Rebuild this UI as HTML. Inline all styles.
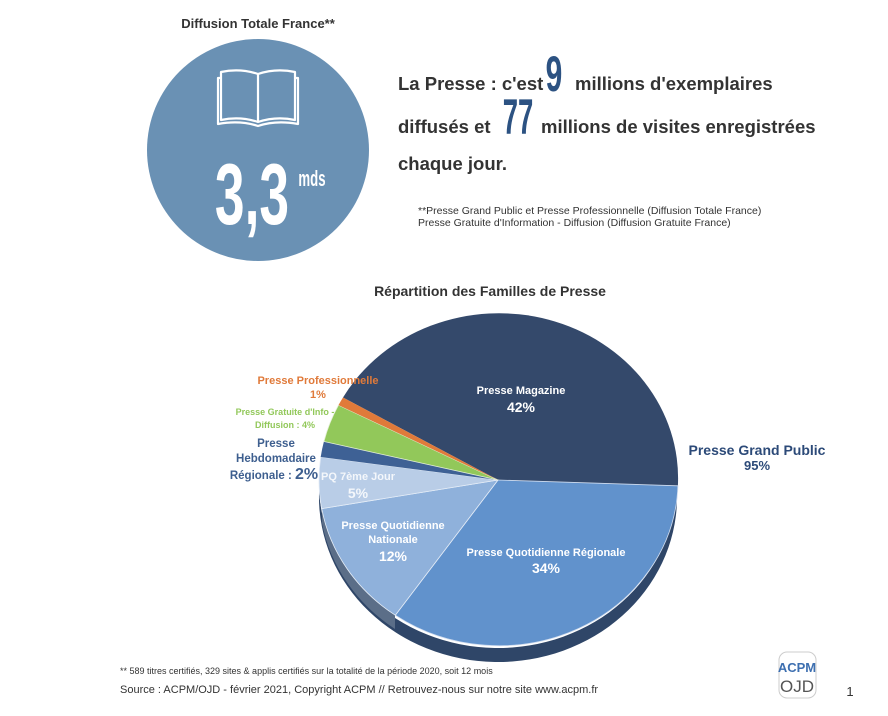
<!DOCTYPE html>
<html><head><meta charset="utf-8"><style>
html,body{margin:0;padding:0;background:#fff;}
body{width:888px;height:716px;position:relative;overflow:hidden;font-family:"Liberation Sans",sans-serif;}
</style></head><body>
<svg width="888" height="716" style="position:absolute;left:0;top:0" font-family="Liberation Sans, sans-serif">
<text x="258" y="28" text-anchor="middle" font-size="13" font-weight="bold" fill="#333">Diffusion Totale France**</text>
<circle cx="258" cy="150" r="111" fill="#6a91b4"/>
<g fill="none" stroke="#fff" stroke-width="2.2" stroke-linejoin="round">
<path d="M221 72 L221 120 Q240 116 258 122 Q276 116 295 120 L295 72 Q276 68 258 74 Q240 68 221 72 Z"/>
<path d="M258 74 L258 122"/>
<path d="M221 78 L218 78 L218 124 Q240 120 258 126 Q276 120 298 124 L298 78 L295 78"/>
</g>
<text x="252" y="224" text-anchor="middle" font-size="86" font-weight="bold" fill="#fff" transform="translate(252 0) scale(0.62 1) translate(-252 0)">3,3</text>
<text x="312" y="186" text-anchor="middle" font-size="22" font-weight="bold" fill="#fff" transform="translate(312 0) scale(0.6 1) translate(-312 0)">mds</text>

<path d="M677 486 A179 165 0 0 1 319 480 L319 494 A179 165 0 0 0 677 500 Z" fill="#2f4668"/>
<path d="M395 615 A179 165 0 0 1 322 509 L322 523 A179 165 0 0 0 395 629 Z" fill="#5b6e88"/>
<path d="M498 480 L343 397.5 A179 165 0 0 1 677.9 485.8 Z" fill="#34496b"/>
<path d="M498 480 L677.9 485.8 A179 165 0 0 1 395.3 615.2 Z" fill="#6192cc" stroke="#cfdcef" stroke-width="0.8"/>
<path d="M498 480 L395.3 615.2 A179 165 0 0 1 321.7 508.6 Z" fill="#8fb1db" stroke="#e5edf7" stroke-width="0.8"/>
<path d="M498 480 L321.7 508.6 A179 165 0 0 1 320.7 457 Z" fill="#b9cde7" stroke="#e5edf7" stroke-width="0.8"/>
<path d="M498 480 L320.7 457 A179 165 0 0 1 323.9 441.5 Z" fill="#3e6195"/>
<path d="M498 480 L323.9 441.5 A179 165 0 0 1 338.5 405.1 Z" fill="#92c85a" stroke="#e5f0d9" stroke-width="0.8"/>
<path d="M498 480 L338.5 405.1 A179 165 0 0 1 343 397.5 Z" fill="#e07a3a"/>

<text x="490" y="296" text-anchor="middle" font-size="14" font-weight="bold" fill="#333">Répartition des Familles de Presse</text>
<g font-weight="bold" fill="#fff" text-anchor="middle">
<text x="521" y="394" font-size="11">Presse Magazine</text>
<text x="521" y="412" font-size="14">42%</text>
<text x="546" y="556" font-size="11">Presse Quotidienne Régionale</text>
<text x="546" y="573" font-size="14">34%</text>
<text x="393" y="529" font-size="11">Presse Quotidienne</text>
<text x="393" y="543" font-size="11">Nationale</text>
<text x="393" y="561" font-size="14">12%</text>
<text x="358" y="480" font-size="11" fill="#f4f7fb">PQ 7ème Jour</text>
<text x="358" y="498" font-size="14" fill="#f4f7fb">5%</text>
</g>
<g font-weight="bold" text-anchor="middle">
<text x="318" y="384" font-size="11" fill="#e07a3a">Presse Professionnelle</text>
<text x="318" y="398" font-size="11" fill="#e07a3a">1%</text>
<text x="285" y="415" font-size="9" fill="#92c85a">Presse Gratuite d'Info -</text>
<text x="285" y="428" font-size="9" fill="#92c85a">Diffusion : 4%</text>
<text x="276" y="447" font-size="11.5" fill="#3e5f8f">Presse</text>
<text x="276" y="462" font-size="11.5" fill="#3e5f8f">Hebdomadaire</text>
<text x="274" y="479" font-size="11.5" fill="#3e5f8f">Régionale : <tspan font-size="16">2%</tspan></text>
<text x="757" y="455" font-size="14" fill="#2c4a78">Presse Grand Public</text>
<text x="757" y="470" font-size="13" fill="#2c4a78">95%</text>
</g>

<g font-size="18.5" font-weight="bold" fill="#333">
<text x="398" y="90">La Presse : c'est</text>
<text x="575" y="90">millions d'exemplaires</text>
<text x="398" y="133">diffusés et</text>
<text x="541" y="133">millions de visites enregistrées</text>
<text x="398" y="170">chaque jour.</text>
</g>
<text x="554" y="91" text-anchor="middle" font-size="50" font-weight="bold" fill="#2c5282" transform="translate(554 0) scale(0.6 1) translate(-554 0)">9</text>
<text x="518" y="134" text-anchor="middle" font-size="50" font-weight="bold" fill="#2c5282" transform="translate(518 0) scale(0.55 1) translate(-518 0)">77</text>
<text x="418" y="214" font-size="10.5" fill="#333">**Presse Grand Public et Presse Professionnelle (Diffusion Totale France)</text>
<text x="418" y="226" font-size="10.5" fill="#333">Presse Gratuite d'Information - Diffusion (Diffusion Gratuite France)</text>

<text x="120" y="674" font-size="9" fill="#333">** 589 titres certifiés, 329 sites &amp; applis certifiés sur la totalité de la période 2020, soit 12 mois</text>
<text x="120" y="693" font-size="11" fill="#333">Source : ACPM/OJD - février 2021, Copyright ACPM // Retrouvez-nous sur notre site www.acpm.fr</text>
<rect x="779" y="652" width="37" height="46" rx="8" fill="#fff" stroke="#ccc"/>
<text x="797" y="672" text-anchor="middle" font-size="13" font-weight="bold" fill="#3d6fb0">ACPM</text>
<text x="797" y="692" text-anchor="middle" font-size="17" fill="#555">OJD</text>
<text x="850" y="696" text-anchor="middle" font-size="13" fill="#333">1</text>
</svg>
</body></html>
